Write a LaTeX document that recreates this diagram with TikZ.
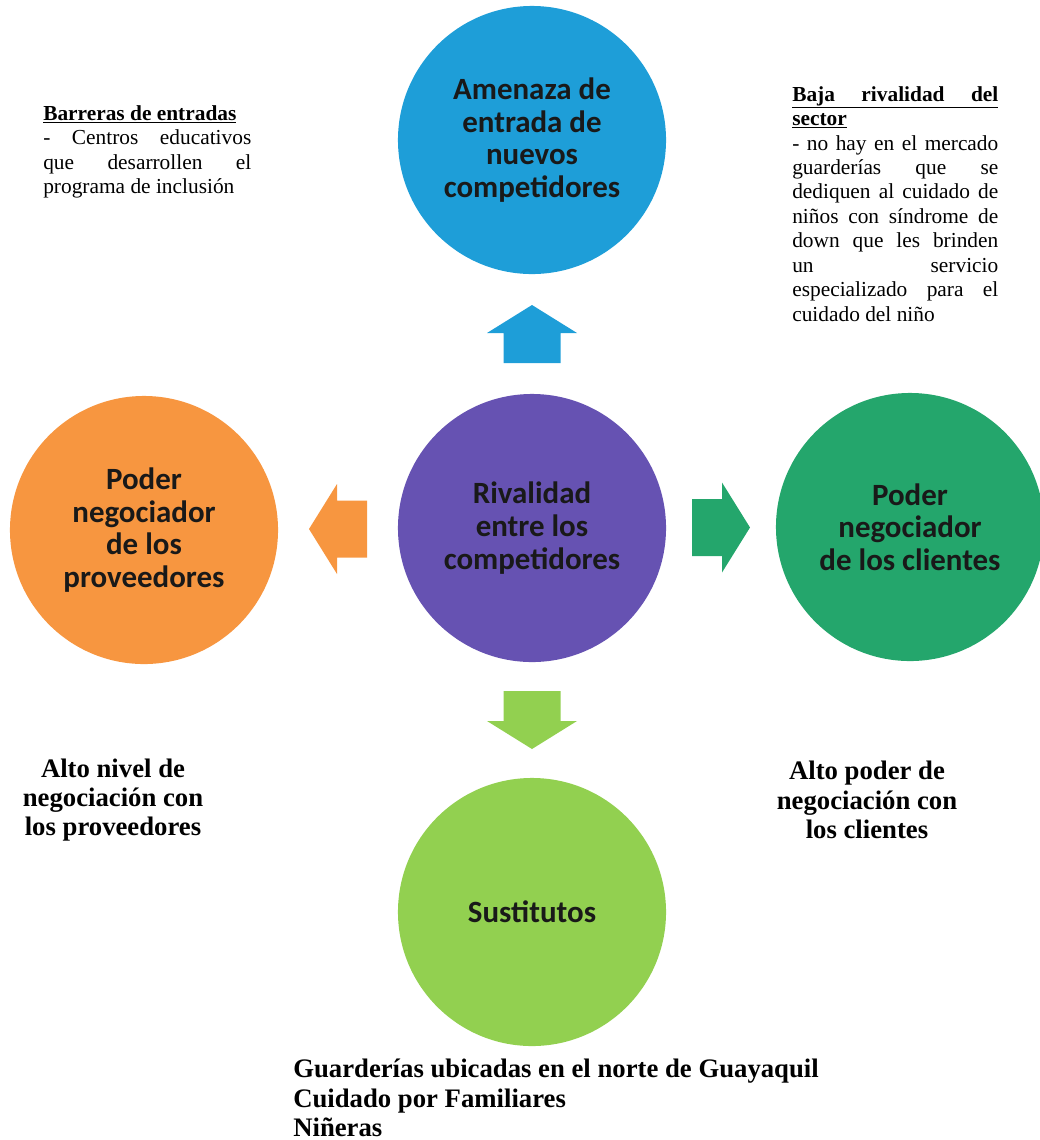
\documentclass[tikz,border=0pt]{standalone}
\usepackage{fontspec}
\setmainfont{Liberation Serif}
\newfontfamily\calibri{Carlito}
\usetikzlibrary{calc}

\definecolor{azul}{RGB}{30,158,216}
\definecolor{morado}{RGB}{102,82,178}
\definecolor{naranja}{RGB}{247,150,64}
\definecolor{verde}{RGB}{36,166,108}
\definecolor{verdeclaro}{RGB}{146,208,80}

\tikzset{
	fuerza/.style={circle, inner sep=0pt, minimum size=6.7cm, align=center, text=black!90,
		font=\calibri\bfseries\fontsize{22}{23.2}\selectfont},
	nota/.style={anchor=north west, inner sep=0pt, text width=#1, align=justify,
		font=\fontsize{15.2}{17.4}\selectfont},
	resumen/.style={inner sep=0pt, font=\bfseries\fontsize{19}{20.8}\selectfont},
	flecha/.pic={\fill[pic actions] (-29,-28.5) -- (1,-28.5) -- (1,-45) -- (29,0) -- (1,45) -- (1,28.5) -- (-29,28.5) -- cycle;}
}

\begin{document}
\begin{tikzpicture}[x=0.025cm, y=-0.025cm]
	\useasboundingbox (0,0) rectangle (1040,1140);

	% las cinco fuerzas
	\node[fuerza, fill=azul] (A) at (532,140) {Amenaza de\\entrada de\\nuevos\\competidores};
	\node[fuerza, fill=morado] (R) at (532,528) {Rivalidad\\entre los\\competidores};
	\node[fuerza, fill=naranja] (P) at (144,530) {Poder\\negociador\\de los\\proveedores};
	\node[fuerza, fill=verde] (K) at (910,527) {Poder\\negociador\\de los clientes};
	\node[fuerza, fill=verdeclaro] (S) at (532,912) {Sustitutos};

	% flechas de bloque entre el centro y cada fuerza
	\pic[fill=azul, rotate=90] at ($(R.north)!0.5!(A.south)$) {flecha};
	\pic[fill=naranja, rotate=180] at ($(R.west)!0.5!(P.east)$) {flecha};
	\pic[fill=verde] at ($(R.east)!0.5!(K.west)$) {flecha};
	\pic[fill=verdeclaro, rotate=-90] at ($(R.south)!0.5!(S.north)$) {flecha};

	% notas
	\node[nota=5.2cm] (BE) at (43,105)
		{\tolerance=10000 \hbadness=10000
		\underline{\textbf{Barreras de entradas}}\par
		- Centros educativos\linebreak que desarrollen el\linebreak programa de inclusión};
	\node[nota=5.15cm] (BR) at (792,86)
		{\tolerance=10000 \hbadness=10000
		\underline{\makebox[5.15cm][s]{\textbf{Baja rivalidad del}}}\par
		\underline{\textbf{sector}}\par
		- no hay en el mercado\linebreak guarderías que se\linebreak dediquen al cuidado de\linebreak
		niños con síndrome de\linebreak down que les brinden\linebreak un servicio\linebreak
		especializado para el\linebreak cuidado del niño};

	\node[resumen, align=center] (NP) at (113,800) {Alto nivel de\\negociación con\\los proveedores};
	\node[resumen, align=center] (NK) at (867,800) {Alto poder de\\negociación con\\los clientes};
	\node[resumen, align=left, anchor=north west] (NS) at (293,1059)
		{Guarderías ubicadas en el norte de Guayaquil\\Cuidado por Familiares\\Niñeras};
\end{tikzpicture}
\end{document}
